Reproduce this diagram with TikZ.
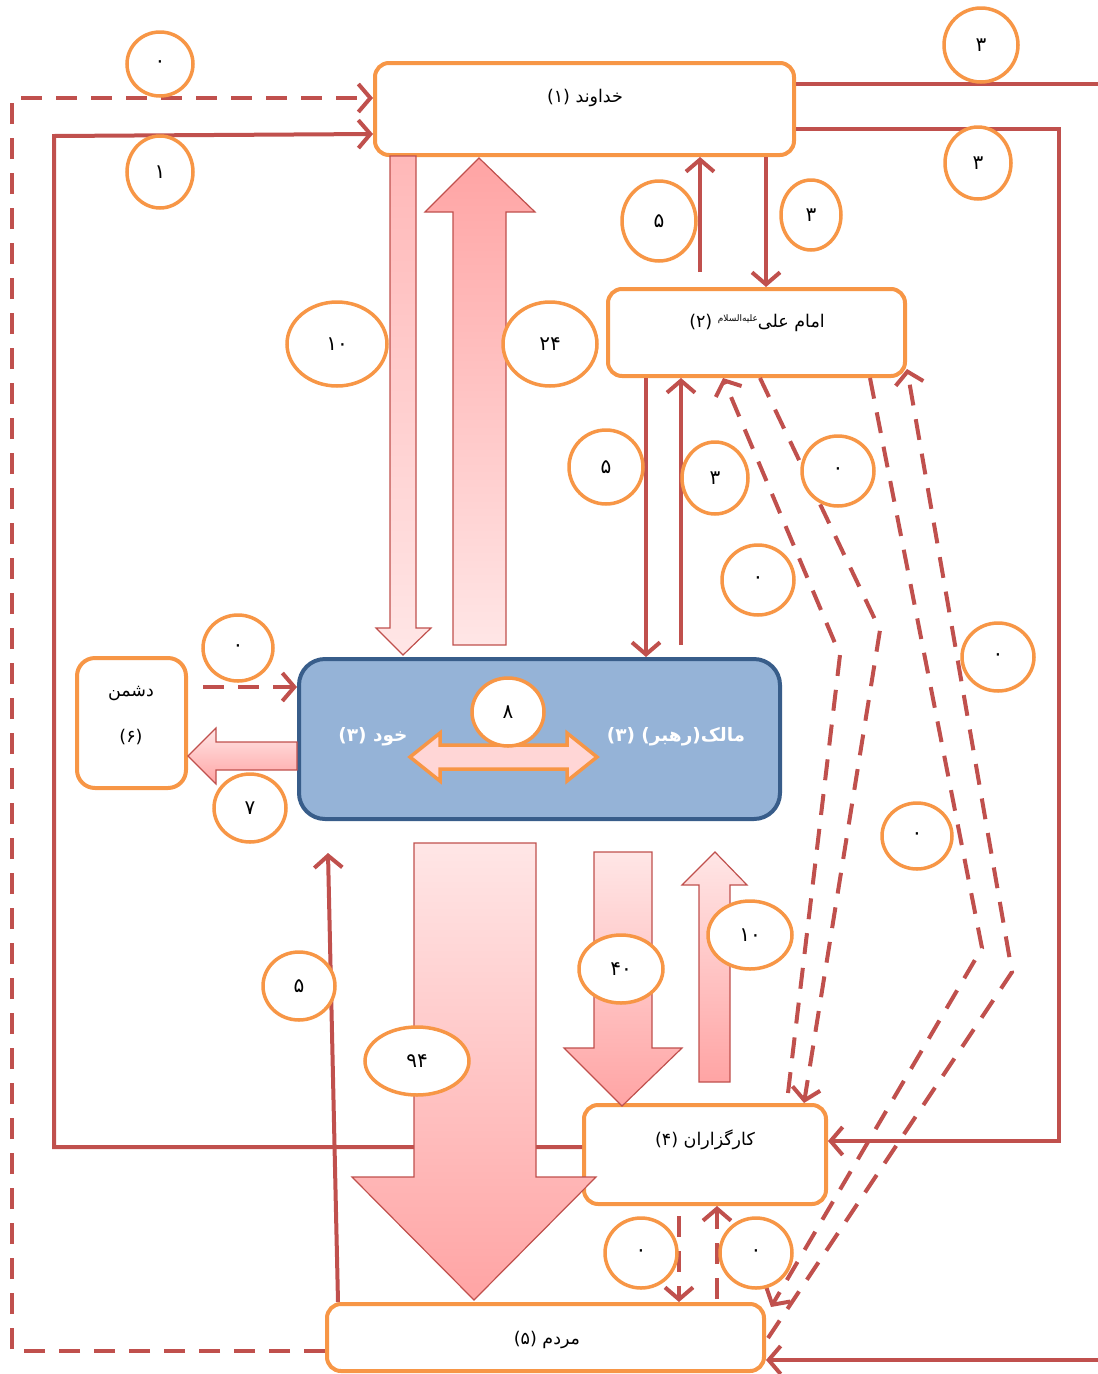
\documentclass[tikz,border=0pt]{standalone}
\usepackage{fontspec}
\setmainfont{DejaVu Sans}
\newfontfamily\fa[Script=Arabic]{DejaVu Sans}
\TeXXeTstate=1
\usetikzlibrary{arrows.meta,shapes.geometric}
\definecolor{orgc}{HTML}{F79646}
\definecolor{redc}{HTML}{C0504D}
\definecolor{bluef}{HTML}{95B3D7}
\definecolor{blued}{HTML}{385D8A}
\definecolor{pinkL}{HTML}{FFE6E6}
\definecolor{pinkD}{HTML}{FFA4A4}
\tikzset{
  box/.style={draw=orgc, line width=4pt, rounded corners=14pt, fill=white, inner sep=0pt},
  txt/.style={font=\fa\fontsize{17.5}{20}\selectfont, inner sep=0pt},
  num/.style={ellipse, draw=orgc, line width=3.5pt, fill=white, inner sep=0pt,
     font=\fa\fontsize{20}{20}\selectfont},
  link/.style={draw=redc, line width=4pt},
  dlink/.style={link, dash pattern=on 21pt off 14pt},
  tip/.style={-{Straight Barb[length=12pt,width=28pt,line width=4pt]}},
  blk/.style={draw=redc, line width=1.2pt, top color=pinkL, bottom color=pinkD},
}
\begin{document}
\begin{tikzpicture}[x=1pt,y=-1pt]
\useasboundingbox (0,0) rectangle (1098,1374);
% ---------- boxes (nodes) ----------
\node[box, minimum width=419pt, minimum height=92pt] (god) at (584.5,109) {};
\node[box, minimum width=297pt, minimum height=87pt] (imam) at (756.5,332.5) {};
\node[box, draw=blued, fill=bluef, rounded corners=26pt, minimum width=481pt, minimum height=160pt] (center) at (539.5,739) {};
\node[box, rounded corners=18pt, minimum width=109pt, minimum height=130pt] (enemy) at (131.5,723) {};
\node[box, minimum width=242pt, minimum height=99pt] (karg) at (705,1154.5) {};
\node[box, minimum width=437pt, minimum height=67pt] (mardom) at (545.5,1337.5) {};
% ---------- connectors ----------
\draw[dlink,tip] (mardom.west |- 0,1351) -- (12,1351) -- (12,98) -- (god.west |- 0,98);
\draw[link,tip] (karg.west |- 0,1147) -- (54,1147) -- (54,136) -- (god.west |- 0,134);
\draw[link,tip] (god.east |- 0,84) -- (1125,84) -- (1125,1360) -- (mardom.east |- 0,1360);
\draw[link,tip] (god.east |- 0,129) -- (1059,129) -- (1059,1141) -- (karg.east |- 0,1141);
\draw[link,tip] ([yshift=15pt]imam.north -| 700,0) -- (god.south -| 700,0);
\draw[link,tip] (god.south -| 766,0) -- (imam.north -| 766,0);
\draw[link,tip] (imam.south -| 646,0) -- (center.north -| 646,0);
\draw[link,tip] ([yshift=12pt]center.north -| 681,0) -- (imam.south -| 681,0);
\draw[dlink,tip] ([yshift=10pt]karg.north -| 788,0) -- (840,655) -- (imam.south -| 723,0);
\draw[dlink,tip] (imam.south -| 760,0) -- (880,630) -- (karg.north -| 804,0);
\draw[dlink,tip] (imam.south -| 870,0) -- (982,948) -- ([xshift=5pt,yshift=-5pt]mardom.north east);
\draw[dlink,tip] ([xshift=2pt]mardom.east |- 0,1338) -- (1012,972) -- ([yshift=9pt]imam.south east);
\draw[dlink,tip] ([yshift=-10pt]karg.south -| 679,0) -- (mardom.north -| 679,0);
\draw[dlink,tip] ([yshift=3pt]mardom.north -| 717,0) -- (karg.south -| 717,0);
\draw[dlink,tip] ([xshift=15pt]enemy.east |- 0,687) -- (center.west |- 0,687);
\draw[link,tip] (mardom.north -| 338,0) -- ([yshift=-32pt]center.south -| 328,0);
% ---------- block arrows ----------
\draw[blk, top color=pinkD!70!pinkL, bottom color=pinkL] (390,156) -- (416,156) -- (416,628) -- (431,628) -- (403,655) -- (376,628) -- (390,628) -- cycle;
\draw[blk, top color=pinkD, bottom color=pinkL] (453,645) -- (506,645) -- (506,212) -- (535,212) -- (479,158) -- (425,212) -- (453,212) -- cycle;
\draw[blk] (297,742) -- (216,742) -- (216,728) -- (188,756) -- (216,784) -- (216,770) -- (297,770) -- cycle;
\draw[blk] (414,843) -- (536,843) -- (536,1177) -- (596,1177) -- (474,1300) -- (352,1177) -- (414,1177) -- cycle;
\draw[blk] (594,852) -- (652,852) -- (652,1048) -- (682,1048) -- (622,1106) -- (564,1048) -- (594,1048) -- cycle;
\draw[blk] (699,1082) -- (730,1082) -- (730,885) -- (747,885) -- (715,852) -- (682,885) -- (699,885) -- cycle;
\draw[draw=orgc, line width=3.5pt, fill=pinkD!45!white, line join=miter] (440,745) -- (567,745) -- (567,733) -- (597,757) -- (567,781) -- (567,769) -- (440,769) -- (440,781) -- (410,757) -- (440,733) -- cycle;
% ---------- box texts ----------
\node[txt] (godt) at (585,98) {\beginR خداوند (۱)\endR};
\node[txt] (imamt) at (757,323) {\beginR امام علی\raisebox{6pt}{\fontsize{9}{9}\selectfont علیه‌السلام} (۲)\endR};
\node[txt, text=white, font=\fa\bfseries\fontsize{18.5}{20}\selectfont] (selft) at (373,737) {\beginR خود (۳)\endR};
\node[txt, text=white, font=\fa\bfseries\fontsize{18.5}{20}\selectfont] (malekt) at (676,737) {\beginR مالک(رهبر) (۳)\endR};
\node[txt] (enemyt1) at (131,693) {\beginR دشمن\endR};
\node[txt] (enemyt2) at (131,737) {\beginR (۶)\endR};
\node[txt] (kargt) at (705,1140) {\beginR کارگزاران (۴)\endR};
\node[txt] (mardomt) at (547,1340) {\beginR مردم (۵)\endR};
% ---------- number circles ----------
\node[num, minimum width=66pt, minimum height=64pt] (n1) at (160,64) {۰};
\node[num, minimum width=66pt, minimum height=72pt] (n2) at (160,172) {۱};
\node[num, minimum width=74pt, minimum height=74pt] (n3) at (981,45) {۳};
\node[num, minimum width=66pt, minimum height=72pt] (n4) at (978,163) {۳};
\node[num, minimum width=74pt, minimum height=80pt] (n5) at (659,221) {۵};
\node[num, minimum width=60pt, minimum height=70pt] (n6) at (811,215) {۳};
\node[num, minimum width=100pt, minimum height=84pt] (n7) at (337,344) {۱۰};
\node[num, minimum width=94pt, minimum height=84pt] (n8) at (550,344) {۲۴};
\node[num, minimum width=74pt, minimum height=74pt] (n9) at (606,467) {۵};
\node[num, minimum width=66pt, minimum height=72pt] (n10) at (715,478) {۳};
\node[num, minimum width=72pt, minimum height=70pt] (n11) at (838,471) {۰};
\node[num, minimum width=72pt, minimum height=70pt] (n12) at (758,580) {۰};
\node[num, minimum width=72pt, minimum height=68pt] (n13) at (998,657) {۰};
\node[num, minimum width=70pt, minimum height=66pt] (n14) at (238,648) {۰};
\node[num, minimum width=72pt, minimum height=68pt] (n15) at (508,712) {۸};
\node[num, minimum width=72pt, minimum height=68pt] (n16) at (250,808) {۷};
\node[num, minimum width=70pt, minimum height=66pt] (n17) at (917,836) {۰};
\node[num, minimum width=84pt, minimum height=68pt] (n18) at (750,935) {۱۰};
\node[num, minimum width=84pt, minimum height=68pt] (n19) at (621,969) {۴۰};
\node[num, minimum width=72pt, minimum height=68pt] (n20) at (299,986) {۵};
\node[num, minimum width=104pt, minimum height=68pt] (n21) at (417,1061) {۹۴};
\node[num, minimum width=72pt, minimum height=70pt] (n22) at (641,1253) {۰};
\node[num, minimum width=72pt, minimum height=70pt] (n23) at (756,1253) {۰};
\end{tikzpicture}
\end{document}
